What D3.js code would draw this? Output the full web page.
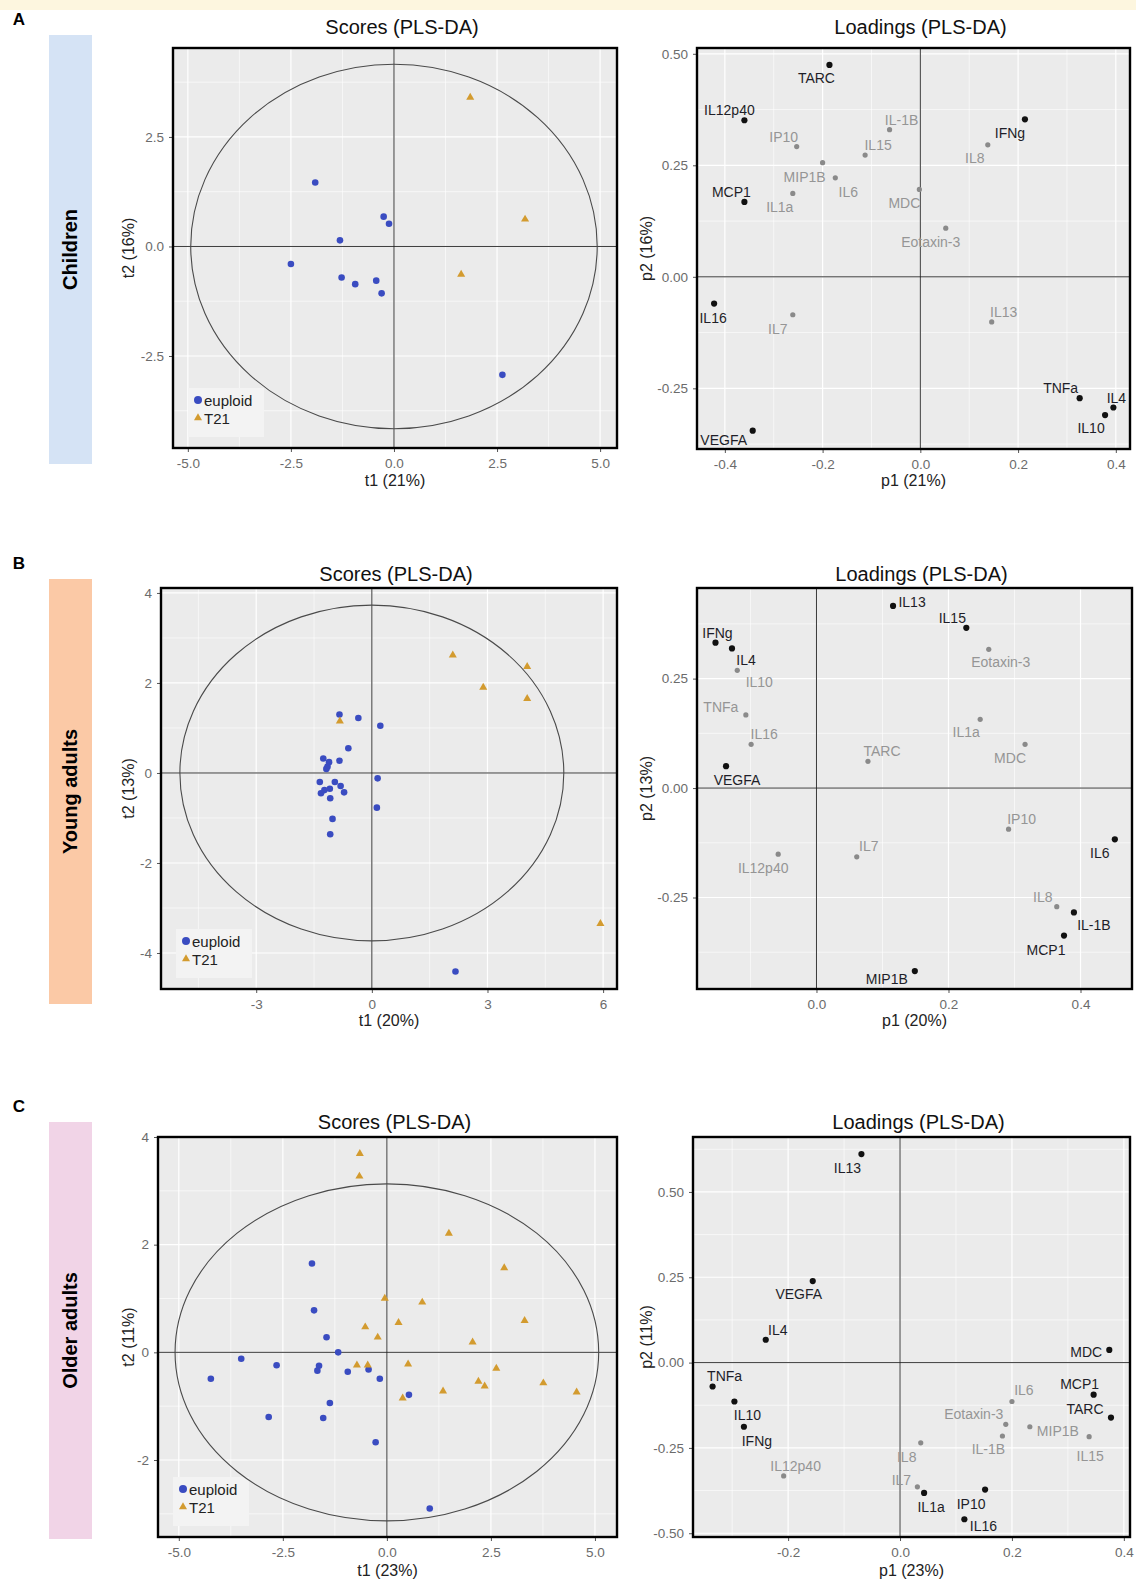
<!DOCTYPE html>
<html>
<head>
<meta charset="utf-8">
<script src="https://cdn.jsdelivr.net/npm/d3@7"></script>
<style>
body { margin: 0; background: #fff; }
svg { display: block; font-family: "Liberation Sans", Arial, sans-serif; }
</style>
</head>
<body>
<svg id="fig" width="1136" height="1581"></svg>
<script>
// ---- data ----
var groups = ["Children", "Young adults", "Older adults"];
var panelLetters = ["A", "B", "C"];

// variance explained (%), component 1 and 2
var varT1 = [21, 20, 23];
var varT2 = [16, 13, 11];

// scores: [t1, t2]
var childrenEuploid = [[-1.91,1.46],[-0.25,0.68],[-0.12,0.52],[-1.31,0.14],[-2.50,-0.40],[-1.27,-0.71],[-0.94,-0.86],[-0.43,-0.78],[-0.30,-1.07],[2.63,-2.93]];
var childrenT21 = [[1.85,3.40],[3.18,0.62],[1.63,-0.64]];

var youngEuploid = [[-0.84,1.30],[-0.35,1.22],[0.22,1.05],[-0.61,0.55],[-1.26,0.32],[-1.11,0.24],[-0.84,0.27],[-1.15,0.14],[-1.18,0.09],[0.15,-0.12],[-1.35,-0.20],[-0.96,-0.20],[-0.81,-0.29],[-1.09,-0.35],[-1.23,-0.38],[-1.32,-0.45],[-0.72,-0.43],[-1.08,-0.56],[0.13,-0.77],[-1.02,-1.02],[-1.08,-1.36],[2.17,-4.41]];
var youngT21 = [[-0.83,1.15],[2.10,2.62],[2.89,1.90],[4.03,2.36],[4.03,1.65],[5.93,-3.35]];

var olderEuploid = [[-1.80,1.65],[-1.75,0.78],[-1.45,0.28],[-1.17,0.00],[-3.50,-0.12],[-2.65,-0.24],[-1.63,-0.25],[-1.67,-0.34],[-0.94,-0.36],[-0.44,-0.32],[-0.17,-0.49],[-4.23,-0.49],[0.53,-0.79],[-1.37,-0.94],[-2.84,-1.20],[-1.53,-1.22],[-0.27,-1.67],[1.03,-2.90]];
var olderT21 = [[-0.65,3.69],[-0.66,3.27],[1.49,2.21],[2.82,1.57],[-0.05,1.00],[0.85,0.93],[3.31,0.59],[0.28,0.55],[-0.52,0.47],[-0.22,0.28],[2.06,0.19],[-0.72,-0.24],[-0.46,-0.24],[0.51,-0.22],[2.63,-0.30],[2.20,-0.54],[2.35,-0.63],[3.76,-0.57],[1.35,-0.72],[4.56,-0.74],[0.38,-0.85]];

// confidence ellipse half-axes [t1, t2]
var childrenEllipse = [4.93, 4.16];
var youngEllipse = [4.98, 3.73];
var olderEllipse = [5.09, 3.13];

// loadings
var childrenNames = ["TARC","IL12p40","MCP1","IL16","VEGFA","IFNg","TNFa","IL4","IL10","IP10","IL-1B","IL15","MIP1B","IL6","IL1a","MDC","IL8","Eotaxin-3","IL7","IL13"];
var childrenP1 = [-0.186,-0.360,-0.360,-0.422,-0.343,0.214,0.326,0.395,0.378,-0.253,-0.063,-0.113,-0.200,-0.174,-0.261,-0.002,0.138,0.052,-0.261,0.146];
var childrenP2 = [0.475,0.351,0.168,-0.060,-0.345,0.353,-0.272,-0.293,-0.310,0.292,0.330,0.273,0.256,0.222,0.187,0.196,0.296,0.109,-0.085,-0.101];
var childrenTop = ["TARC","IL12p40","MCP1","IL16","VEGFA","IFNg","TNFa","IL4","IL10"];

var youngNames = ["IL13","IL15","IFNg","IL4","VEGFA","IL6","IL-1B","MCP1","MIP1B","Eotaxin-3","IL10","TNFa","IL16","IL1a","TARC","MDC","IP10","IL7","IL12p40","IL8"];
var youngP1 = [0.116,0.227,-0.153,-0.128,-0.137,0.452,0.390,0.375,0.149,0.261,-0.120,-0.107,-0.099,0.248,0.078,0.316,0.291,0.061,-0.058,0.364];
var youngP2 = [0.416,0.366,0.332,0.319,0.050,-0.117,-0.284,-0.337,-0.418,0.317,0.269,0.167,0.100,0.157,0.061,0.100,-0.094,-0.157,-0.151,-0.271];
var youngTop = ["IL13","IL15","IFNg","IL4","VEGFA","IL6","IL-1B","MCP1","MIP1B"];

var olderNames = ["IL13","VEGFA","IL4","TNFa","IL10","IFNg","MDC","MCP1","TARC","IL1a","IP10","IL16","IL6","Eotaxin-3","MIP1B","IL-1B","IL15","IL8","IL12p40","IL7"];
var olderP1 = [-0.069,-0.156,-0.240,-0.335,-0.296,-0.279,0.374,0.346,0.377,0.043,0.152,0.115,0.200,0.189,0.232,0.183,0.338,0.037,-0.208,0.031];
var olderP2 = [0.611,0.239,0.067,-0.070,-0.114,-0.188,0.037,-0.094,-0.161,-0.382,-0.372,-0.459,-0.114,-0.181,-0.188,-0.215,-0.217,-0.235,-0.332,-0.364];
var olderTop = ["IL13","VEGFA","IL4","TNFa","IL10","IFNg","MDC","MCP1","TARC","IL1a","IP10","IL16"];

// axis ticks and limits
var scoreXTicks = [[-5,-2.5,0,2.5,5],[-3,0,3,6],[-5,-2.5,0,2.5,5]];
var scoreYTicks = [[-2.5,0,2.5],[-4,-2,0,2,4],[-2,0,2,4]];
var scoreXLim = [[-5.36,5.41],[-5.47,6.36],[-5.50,5.53]];
var scoreYLim = [[-4.60,4.53],[-4.80,4.11],[-3.43,4.00]];
var loadXTicks = [[-0.4,-0.2,0,0.2,0.4],[0,0.2,0.4],[-0.2,0,0.2,0.4]];
var loadYTicks = [[-0.25,0,0.25,0.5],[-0.25,0,0.25],[-0.5,-0.25,0,0.25,0.5]];
var loadXLim = [[-0.457,0.429],[-0.181,0.478],[-0.370,0.411]];
var loadYLim = [[-0.386,0.513],[-0.459,0.457],[-0.511,0.661]];

// ---- layout (pixels) ----
var rowLayout = [
  {letterY: 19, bar: [35, 464], barColor: "#d5e3f5", titleY: 27, xTitleY: 480,
   scores: {left: 173, right: 617, top: 48, bottom: 448},
   loads: {left: 697, right: 1130, top: 48, bottom: 449}},
  {letterY: 563, bar: [579, 1004], barColor: "#fbc9a6", titleY: 574, xTitleY: 1020,
   scores: {left: 161, right: 617, top: 588, bottom: 989},
   loads: {left: 697, right: 1132, top: 588, bottom: 989}},
  {letterY: 1106, bar: [1122, 1539], barColor: "#f1d4e7", titleY: 1122, xTitleY: 1570,
   scores: {left: 158, right: 617, top: 1137, bottom: 1537},
   loads: {left: 693, right: 1130, top: 1137, bottom: 1537}}
];

// label offsets (px) from each loading point
var labelNudge = [
  {"TARC":[-13,13],"IL12p40":[-15,-10],"MCP1":[-13,-10],"IL16":[-1,14],"VEGFA":[-29,9],"IFNg":[-15,14],"TNFa":[-19,-10],"IL4":[3,-10],"IL10":[-14,13],
   "IP10":[-13,-10],"IL-1B":[12,-10],"IL15":[13,-10],"MIP1B":[-18,14],"IL6":[13,14],"IL1a":[-13,14],"MDC":[-15,14],"IL8":[-13,13],"Eotaxin-3":[-15,14],"IL7":[-15,14],"IL13":[12,-10]},
  {"IL13":[19,-4],"IL15":[-14,-10],"IFNg":[2,-10],"IL4":[14,12],"VEGFA":[11,14],"IL6":[-15,14],"IL-1B":[20,13],"MCP1":[-18,14],"MIP1B":[-28,8],
   "Eotaxin-3":[12,13],"IL10":[22,12],"TNFa":[-25,-8],"IL16":[13,-10],"IL1a":[-14,13],"TARC":[14,-10],"MDC":[-15,14],"IP10":[13,-10],"IL7":[12,-11],"IL12p40":[-15,14],"IL8":[-14,-10]},
  {"IL13":[-14,14],"VEGFA":[-14,13],"IL4":[12,-10],"TNFa":[12,-10],"IL10":[13,13],"IFNg":[13,14],"MDC":[-23,2],"MCP1":[-14,-11],"TARC":[-26,-9],"IL1a":[7,14],"IP10":[-14,14],"IL16":[19,7],
   "IL6":[12,-12],"Eotaxin-3":[-32,-10],"MIP1B":[28,4],"IL-1B":[-14,13],"IL15":[1,19],"IL8":[-14,14],"IL12p40":[12,-10],"IL7":[-16,-7]}
];

var euploidColor = "#3a4cc1";
var t21Color = "#d39b2f";

var svg = d3.select("#fig");
var fmtHyphen = function(f) { return function(v) { return f(v).replace("\u2212", "-"); }; };

svg.append("rect").attr("x", 0).attr("y", 0).attr("width", 1136).attr("height", 10).attr("fill", "#fdf6df");

function minorTicks(major, lim) {
  var step = major[1] - major[0];
  var out = [];
  for (var v = major[0] - step / 2; v <= major[major.length - 1] + step / 2 + 1e-9; v += step) {
    if (v >= lim[0] && v <= lim[1]) out.push(v);
  }
  return out;
}

// shared frame: background, grid, zero lines, axes, titles
function drawFrame(box, xLim, yLim, xTicks, yTicks, xFmt, yFmt, title, xTitle, yTitle, titleY, xTitleY, yTitleX) {
  var x = d3.scaleLinear().domain(xLim).range([box.left, box.right]);
  var y = d3.scaleLinear().domain(yLim).range([box.bottom, box.top]);
  var g = svg.append("g");

  g.append("rect").attr("x", box.left).attr("y", box.top)
    .attr("width", box.right - box.left).attr("height", box.bottom - box.top)
    .attr("fill", "#ebebeb");

  var grid = g.append("g").attr("stroke", "#fff");
  grid.selectAll(".mx").data(minorTicks(xTicks, xLim)).enter().append("line")
    .attr("x1", d => x(d)).attr("x2", d => x(d)).attr("y1", box.top).attr("y2", box.bottom).attr("stroke-width", 0.6);
  grid.selectAll(".my").data(minorTicks(yTicks, yLim)).enter().append("line")
    .attr("y1", d => y(d)).attr("y2", d => y(d)).attr("x1", box.left).attr("x2", box.right).attr("stroke-width", 0.6);
  grid.selectAll(".Mx").data(xTicks).enter().append("line")
    .attr("x1", d => x(d)).attr("x2", d => x(d)).attr("y1", box.top).attr("y2", box.bottom).attr("stroke-width", 1.2);
  grid.selectAll(".My").data(yTicks).enter().append("line")
    .attr("y1", d => y(d)).attr("y2", d => y(d)).attr("x1", box.left).attr("x2", box.right).attr("stroke-width", 1.2);

  g.append("line").attr("x1", x(0)).attr("x2", x(0)).attr("y1", box.top).attr("y2", box.bottom)
    .attr("stroke", "#222").attr("stroke-width", 0.9);
  g.append("line").attr("y1", y(0)).attr("y2", y(0)).attr("x1", box.left).attr("x2", box.right)
    .attr("stroke", "#222").attr("stroke-width", 0.9);

  var xAxis = d3.axisBottom(x).tickValues(xTicks).tickFormat(fmtHyphen(xFmt)).tickSize(4).tickPadding(6);
  var yAxis = d3.axisLeft(y).tickValues(yTicks).tickFormat(fmtHyphen(yFmt)).tickSize(4).tickPadding(5);
  var ax = g.append("g").attr("transform", `translate(0,${box.bottom})`).call(xAxis);
  var ay = g.append("g").attr("transform", `translate(${box.left},0)`).call(yAxis);
  [ax, ay].forEach(function(a) {
    a.select(".domain").remove();
    a.selectAll("line").attr("stroke", "#555");
    a.selectAll("text").attr("fill", "#6b6b6b").style("font-size", "13.5px").style("font-family", "Liberation Sans, Arial, sans-serif");
  });

  g.append("text").attr("x", (box.left + box.right) / 2 + 7).attr("y", titleY)
    .attr("text-anchor", "middle").attr("dominant-baseline", "central")
    .attr("fill", "#111").style("font-size", "20px").text(title);
  g.append("text").attr("x", (box.left + box.right) / 2).attr("y", xTitleY)
    .attr("text-anchor", "middle").attr("dominant-baseline", "central")
    .attr("fill", "#222").style("font-size", "16px").text(xTitle);
  g.append("text").attr("transform", `translate(${yTitleX},${(box.top + box.bottom) / 2}) rotate(-90)`)
    .attr("text-anchor", "middle").attr("dominant-baseline", "central")
    .attr("fill", "#222").style("font-size", "16px").text(yTitle);

  return {g: g, x: x, y: y};
}

function drawBorder(g, box) {
  g.append("rect").attr("x", box.left).attr("y", box.top)
    .attr("width", box.right - box.left).attr("height", box.bottom - box.top)
    .attr("fill", "none").attr("stroke", "#000").attr("stroke-width", 2.4);
}

var triangle = d3.symbol().type(d3.symbolTriangle).size(28);

function drawScores(i, euploid, t21, ell) {
  var L = rowLayout[i];
  var box = L.scores;
  var intFmt = scoreXTicks[i].every(Number.isInteger) ? d3.format("d") : d3.format(".1f");
  var yIntFmt = scoreYTicks[i].every(Number.isInteger) ? d3.format("d") : d3.format(".1f");
  var f = drawFrame(box, scoreXLim[i], scoreYLim[i], scoreXTicks[i], scoreYTicks[i], intFmt, yIntFmt,
    "Scores (PLS-DA)", `t1 (${varT1[i]}%)`, `t2 (${varT2[i]}%)`, L.titleY, L.xTitleY, 128);
  var g = f.g, x = f.x, y = f.y;

  // legend (drawn under the ellipse so the ring stays visible)
  var lx = box.left + 15, ly = box.bottom - 60;
  g.append("rect").attr("x", lx).attr("y", ly).attr("width", 76).attr("height", 49).attr("fill", "#f3f3f3");

  g.append("ellipse").attr("cx", x(0)).attr("cy", y(0))
    .attr("rx", x(ell[0]) - x(0)).attr("ry", y(0) - y(ell[1]))
    .attr("fill", "none").attr("stroke", "#4a4a4a").attr("stroke-width", 1.1);

  g.selectAll(".eu").data(euploid).enter().append("circle")
    .attr("cx", d => x(d[0])).attr("cy", d => y(d[1])).attr("r", 3.3)
    .attr("fill", euploidColor);
  g.selectAll(".t21").data(t21).enter().append("path")
    .attr("d", triangle)
    .attr("transform", d => `translate(${x(d[0])},${y(d[1])})`)
    .attr("fill", t21Color);

  g.append("circle").attr("cx", lx + 10).attr("cy", ly + 12).attr("r", 4).attr("fill", euploidColor);
  g.append("path").attr("d", triangle).attr("transform", `translate(${lx + 10},${ly + 30})`).attr("fill", t21Color);
  g.append("text").attr("x", lx + 16).attr("y", ly + 12).attr("dominant-baseline", "central")
    .style("font-size", "15px").attr("fill", "#222").text("euploid");
  g.append("text").attr("x", lx + 16).attr("y", ly + 30).attr("dominant-baseline", "central")
    .style("font-size", "15px").attr("fill", "#222").text("T21");

  drawBorder(g, box);
}

function drawLoadings(i, names, p1, p2, top) {
  var L = rowLayout[i];
  var box = L.loads;
  var f = drawFrame(box, loadXLim[i], loadYLim[i], loadXTicks[i], loadYTicks[i], d3.format(".1f"), d3.format(".2f"),
    "Loadings (PLS-DA)", `p1 (${varT1[i]}%)`, `p2 (${varT2[i]}%)`, L.titleY, L.xTitleY, 646);
  var g = f.g, x = f.x, y = f.y;
  var rows = names.map((n, k) => ({name: n, p1: p1[k], p2: p2[k], top: top.indexOf(n) >= 0}));
  // grey ones first so the black ones sit on top
  rows.sort((a, b) => a.top - b.top);

  g.selectAll(".pt").data(rows).enter().append("circle")
    .attr("cx", d => x(d.p1)).attr("cy", d => y(d.p2))
    .attr("r", d => d.top ? 3.1 : 2.6)
    .attr("fill", d => d.top ? "#111" : "#8a8a8a");
  g.selectAll(".lab").data(rows).enter().append("text")
    .attr("x", d => x(d.p1) + labelNudge[i][d.name][0])
    .attr("y", d => y(d.p2) + labelNudge[i][d.name][1])
    .attr("text-anchor", "middle").attr("dominant-baseline", "central")
    .style("font-size", "14px")
    .attr("fill", d => d.top ? "#1e1e28" : "#959595")
    .text(d => d.name);

  drawBorder(g, box);
}

// side bars and panel letters
rowLayout.forEach(function(L, i) {
  svg.append("text").attr("x", 19).attr("y", L.letterY).attr("text-anchor", "middle")
    .attr("dominant-baseline", "central").style("font-size", "17px").style("font-weight", "bold")
    .attr("fill", "#000").text(panelLetters[i]);
  svg.append("rect").attr("x", 49).attr("y", L.bar[0]).attr("width", 43)
    .attr("height", L.bar[1] - L.bar[0]).attr("fill", L.barColor);
  svg.append("text").attr("transform", `translate(70,${(L.bar[0] + L.bar[1]) / 2}) rotate(-90)`)
    .attr("text-anchor", "middle").attr("dominant-baseline", "central")
    .style("font-size", "20px").style("font-weight", "bold").attr("fill", "#000")
    .text(groups[i]);
});

drawScores(0, childrenEuploid, childrenT21, childrenEllipse);
drawScores(1, youngEuploid, youngT21, youngEllipse);
drawScores(2, olderEuploid, olderT21, olderEllipse);
drawLoadings(0, childrenNames, childrenP1, childrenP2, childrenTop);
drawLoadings(1, youngNames, youngP1, youngP2, youngTop);
drawLoadings(2, olderNames, olderP1, olderP2, olderTop);
</script>
</body>
</html>
